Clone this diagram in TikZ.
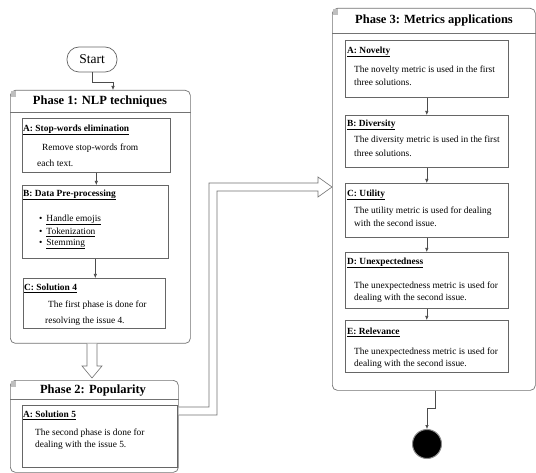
\documentclass[tikz,border=0pt]{standalone}
\usepackage{fontspec}
\setmainfont{Liberation Serif}
\usetikzlibrary{arrows.meta,calc}
\begin{document}
\begin{tikzpicture}[x=1pt,y=-1pt,
  phase/.style={draw=black!55, line width=0.7pt, rounded corners=5pt, anchor=north west, inner sep=0pt},
  ibox/.style={draw=black!60, line width=0.6pt, anchor=north west, inner sep=0pt},
  hdr/.style={font=\fontsize{12.5}{14}\selectfont\bfseries, inner sep=0pt},
  lbl/.style={font=\fontsize{9.4}{11}\selectfont\bfseries, anchor=west, inner sep=0pt},
  txt/.style={font=\fontsize{9.4}{11}\selectfont, anchor=west, inner sep=0pt},
  sepline/.style={draw=black!55, line width=0.8pt},
  arr/.style={draw=black!70, line width=0.6pt, -{Latex[length=4pt,width=3.5pt]}},
  hollow/.style={draw=black!55, line width=0.6pt, fill=white},
  sq/.style={fill=black!25, minimum width=5pt, minimum height=6pt, inner sep=0pt, anchor=north west},
]
\useasboundingbox (0,0) rectangle (536,473);
\fill[white] (0,0) rectangle (536,473);

% Start
\node[draw=black!60, line width=0.7pt, rounded corners=12pt, minimum width=50pt, minimum height=25pt, font=\fontsize{13.5}{15}\selectfont] (start) at (92,59.5) {Start};

% Phase 1
\node[phase, minimum width=180pt, minimum height=253pt] (ph1) at (10,90) {};
\node[sq] (ph1sq) at (11,91) {};
\node[hdr] (ph1t) at (100,101.5) {Phase 1: NLP techniques};
\draw[sepline] ($(ph1.north west)+(0,22)$) -- ($(ph1.north east)+(0,22)$);

\node[ibox, minimum width=148pt, minimum height=54pt] (p1a) at (22,118) {};
\node[lbl] (p1al) at (23,130) {\underline{A: Stop-words elimination}};
\node[txt] (p1a1) at (42,148) {Remove stop-words from};
\node[txt] (p1a2) at (37,163) {each text.};

\node[ibox, minimum width=146pt, minimum height=73pt] (p1b) at (22,185) {};
\node[lbl] (p1bl) at (23,195) {\underline{B: Data Pre-processing}};
\node[txt] (p1b1) at (39,220) {\textbullet\hspace{4pt}\underline{Handle emojis}};
\node[txt] (p1b2) at (39,232) {\textbullet\hspace{4pt}\underline{Tokenization}};
\node[txt] (p1b3) at (39,244) {\textbullet\hspace{4pt}\underline{Stemming}};

\node[ibox, minimum width=142pt, minimum height=50pt] (p1c) at (23,278) {};
\node[lbl] (p1cl) at (24,288) {\underline{C: Solution 4}};
\node[txt] (p1c1) at (48,305) {The first phase is done for};
\node[txt] (p1c2) at (45,321) {resolving the issue 4.};

\draw[arr] (p1a.south) -- (p1a.south |- p1b.north);
\draw[arr] (p1b.south) -- (p1b.south |- p1c.north);

% Phase 2
\node[phase, minimum width=168pt, minimum height=92pt] (ph2) at (10,380) {};
\node[sq] (ph2sq) at (11,381) {};
\node[hdr] (ph2t) at (93,391) {Phase 2: Popularity};
\draw[sepline] ($(ph2.north west)+(0,19)$) -- ($(ph2.north east)+(0,19)$);

\node[ibox, minimum width=155pt, minimum height=62pt] (p2a) at (22,405) {};
\node[lbl] (p2al) at (23,415) {\underline{A: Solution 5}};
\node[txt] (p2a1) at (35,433) {The second phase is done for};
\node[txt] (p2a2) at (35,445) {dealing with the issue 5.};

% Phase 3
\node[phase, minimum width=203pt, minimum height=382pt] (ph3) at (332,8) {};
\node[sq] (ph3sq) at (333,9) {};
\node[hdr] (ph3t) at (434,20.5) {Phase 3: Metrics applications};
\draw[sepline] ($(ph3.north west)+(0,25)$) -- ($(ph3.north east)+(0,25)$);

\node[ibox, minimum width=163pt, minimum height=57pt] (p3a) at (345,40) {};
\node[lbl] (p3al) at (347,52) {\underline{A: Novelty}};
\node[txt] (p3a1) at (354,70) {The novelty metric is used in the first};
\node[txt] (p3a2) at (354,82) {three solutions.};

\node[ibox, minimum width=163pt, minimum height=52pt] (p3b) at (345,115) {};
\node[lbl] (p3bl) at (347,125) {\underline{B: Diversity}};
\node[txt] (p3b1) at (354,140) {The diversity metric is used in the first};
\node[txt] (p3b2) at (354,153) {three solutions.};

\node[ibox, minimum width=163pt, minimum height=54pt] (p3c) at (345,183) {};
\node[lbl] (p3cl) at (347,195) {\underline{C: Utility}};
\node[txt] (p3c1) at (354,211) {The utility metric is used for dealing};
\node[txt] (p3c2) at (354,223) {with the second issue.};

\node[ibox, minimum width=163pt, minimum height=56pt] (p3d) at (345,252) {};
\node[lbl] (p3dl) at (347,263) {\underline{D: Unexpectedness}};
\node[txt] (p3d1) at (354,286) {The unexpectedness metric is used for};
\node[txt] (p3d2) at (354,298) {dealing with the second issue.};

\node[ibox, minimum width=163pt, minimum height=52pt] (p3e) at (345,320) {};
\node[lbl] (p3el) at (347,332) {\underline{E: Relevance}};
\node[txt] (p3e1) at (354,352) {The unexpectedness metric is used for};
\node[txt] (p3e2) at (354,364) {dealing with the second issue.};

\draw[arr] (p3a.south) -- (p3a.south |- p3b.north);
\draw[arr] (p3b.south) -- (p3b.south |- p3c.north);
\draw[arr] (p3c.south) -- (p3c.south |- p3d.north);
\draw[arr] (p3d.south) -- (p3d.south |- p3e.north);

% End node
\node[circle, fill=black, draw=black!45, line width=1pt, minimum size=29pt, inner sep=0pt] (endc) at (427,444) {};

% Start -> Phase 1
\draw[arr] (start.south) -- ++(0,10) -| (ph1.north -| 113,0);

% Phase 3 -> End
\coordinate (ex) at (ph3.south -| 435,0);
\draw[arr] (ex) -- ++(0,18) -| (endc.north);

% Hollow arrow Phase 1 -> Phase 2
\coordinate (h1s) at (ph1.south -| 92,0);
\coordinate (h1e) at (ph2.north -| 92,0);
\draw[hollow] ($(h1s)+(-5,0)$) -- ($(h1e)+(-5,-14)$) -- ($(h1e)+(-10,-14)$) -- ($(h1e)+(0,-2)$)
  -- ($(h1e)+(10,-14)$) -- ($(h1e)+(5,-14)$) -- ($(h1s)+(5,0)$);

% Hollow L-arrow Phase 2 -> Phase 3
\coordinate (ls) at (ph2.east |- 0,411);
\coordinate (lt) at (ph3.west |- 0,187);
\coordinate (lb) at (213,0);
\draw[hollow] ($(ls)+(0,-4)$) -- ($(lb |- ls)+(-4,-4)$) -- ($(lb |- lt)+(-4,-4)$) -- ($(lt)+(-14,-4)$)
  -- ($(lt)+(-14,-10)$) -- (lt) -- ($(lt)+(-14,10)$) -- ($(lt)+(-14,4)$)
  -- ($(lb |- lt)+(4,4)$) -- ($(lb |- ls)+(4,4)$) -- ($(ls)+(0,4)$);
\end{tikzpicture}
\end{document}
